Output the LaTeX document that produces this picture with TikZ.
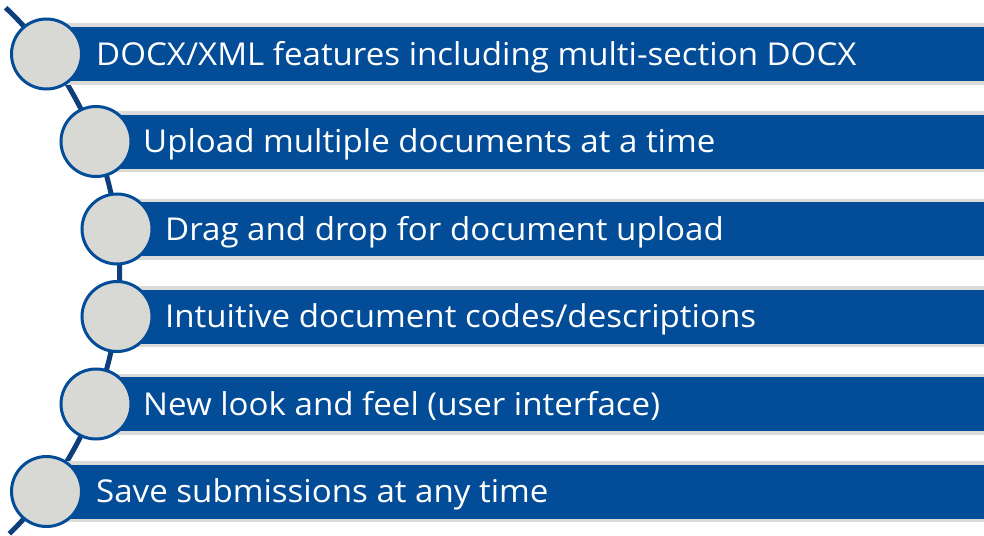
\documentclass[tikz,border=0pt]{standalone}
\usepackage{fontspec}
\setmainfont[FakeStretch=1.05]{Open Sans}
\definecolor{barblue}{HTML}{034D98}
\definecolor{arcblue}{HTML}{0E3F7C}
\definecolor{dotgray}{HTML}{D8D8D5}
\definecolor{stripgray}{HTML}{DADAD8}
\tikzset{
  dotbox/.style={circle, fill=dotgray, draw=barblue, line width=3pt, minimum size=70pt, inner sep=0pt},
  label/.style={anchor=base west, text=white, font=\fontsize{31.5}{36}\selectfont, inner sep=0pt},
  arcline/.style={draw=arcblue, line width=5pt}
}
\begin{document}
\begin{tikzpicture}[x=1pt,y=-1pt]
\useasboundingbox (0,0) rectangle (984,535);
\clip (0,0) rectangle (984,535);
\fill[white] (0,0) rectangle (984,535);
\draw[arcline] plot[domain=-46.6:45.8, samples=120] ({-244.7+364.4*cos(\x)},{272.5+364.4*sin(\x)});
\foreach \i/\cx/\cy/\tx/\txt in {
  1/46.5/54/96/{DOCX/XML features including multi-section DOCX},
  2/96/141.5/143/{Upload multiple documents at a time},
  3/117/229/165/{Drag and drop for document upload},
  4/117/316.5/165/{Intuitive document codes/descriptions},
  5/96/404/143/{New look and feel (user interface)},
  6/46.5/491.5/96/{Save submissions at any time}} {
  \fill[stripgray] (\cx,\cy-30.5) rectangle (984,\cy+30.5);
  \fill[barblue] (\cx,\cy-27) rectangle (984,\cy+27);
  \node[label] (t\i) at (\tx,\cy+11) {\txt};
  \node[dotbox] (c\i) at (\cx,\cy) {};
}
\end{tikzpicture}
\end{document}
